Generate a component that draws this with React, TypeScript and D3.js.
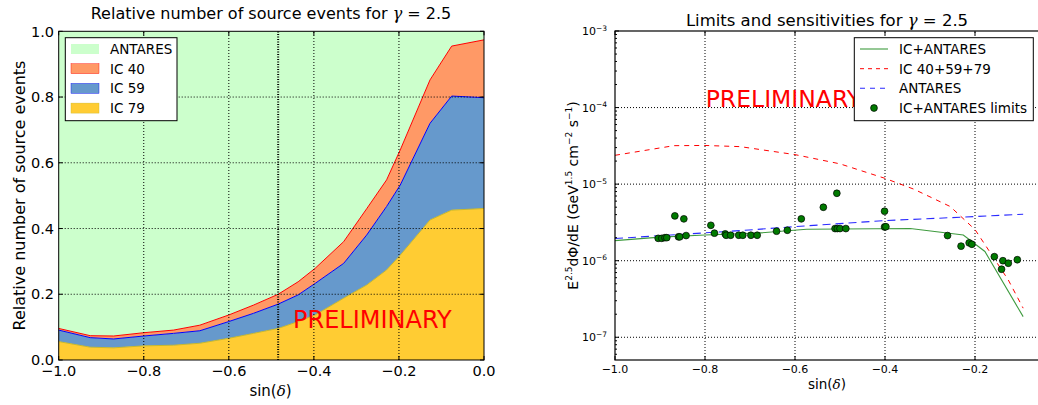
import React from 'react';
import * as d3 from 'd3';

// ---------- Left chart: relative number of source events ----------
const sinDec = [-1.0, -0.926, -0.871, -0.8, -0.73, -0.668, -0.6, -0.542, -0.484, -0.437, -0.397, -0.33, -0.276, -0.229, -0.197, -0.127, -0.076, 0.0];
const ic79 = [0.056, 0.039, 0.037, 0.043, 0.045, 0.051, 0.066, 0.081, 0.096, 0.117, 0.137, 0.188, 0.228, 0.274, 0.319, 0.426, 0.456, 0.461];
const ic59 = [0.035, 0.029, 0.027, 0.030, 0.036, 0.038, 0.051, 0.061, 0.074, 0.081, 0.096, 0.106, 0.152, 0.193, 0.213, 0.294, 0.347, 0.337];
const ic40 = [0.005, 0.006, 0.009, 0.010, 0.010, 0.017, 0.020, 0.025, 0.030, 0.040, 0.046, 0.066, 0.080, 0.081, 0.107, 0.132, 0.152, 0.176];
const antares = [0.904, 0.926, 0.927, 0.917, 0.909, 0.894, 0.863, 0.833, 0.800, 0.762, 0.721, 0.640, 0.540, 0.452, 0.361, 0.148, 0.045, 0.026];
const antaresLat = -0.484;
const leftXTicks = [-1.0, -0.8, -0.6, -0.4, -0.2, 0.0];
const leftYTicks = [0.0, 0.2, 0.4, 0.6, 0.8, 1.0];

// ---------- Right chart: limits and sensitivities ----------
const combSensX = [-1.0, -0.9, -0.8, -0.685, -0.574, -0.344, -0.226, -0.178, -0.093];
const combSensY = [1.83e-6, 2.03e-6, 2.17e-6, 2.29e-6, 2.57e-6, 2.63e-6, 2.17e-6, 1.32e-6, 1.86e-7];
const icSensX = [-1.0, -0.869, -0.8, -0.722, -0.6, -0.5, -0.4, -0.336, -0.255, -0.2, -0.167, -0.126, -0.093];
const icSensY = [2.38e-5, 3.18e-5, 3.2e-5, 3.09e-5, 2.43e-5, 1.84e-5, 1.19e-5, 8.6e-6, 5.1e-6, 2.55e-6, 1.3e-6, 5.6e-7, 2.4e-7];
const antSensX = [-1.0, -0.722, -0.6, -0.4, -0.2, -0.093];
const antSensY = [1.95e-6, 2.47e-6, 2.79e-6, 3.34e-6, 3.77e-6, 4.05e-6];
const limitX = [-0.904, -0.896, -0.889, -0.885, -0.867, -0.859, -0.856, -0.847, -0.842, -0.787, -0.779, -0.755, -0.753, -0.743, -0.725, -0.716, -0.698, -0.684, -0.641, -0.617, -0.586, -0.537, -0.511, -0.506, -0.507, -0.5, -0.487, -0.401, -0.401, -0.398, -0.261, -0.231, -0.213, -0.207, -0.157, -0.141, -0.138, -0.126, -0.106];
const limitY = [1.96e-6, 1.96e-6, 2.0e-6, 2.0e-6, 3.85e-6, 2.05e-6, 2.05e-6, 3.52e-6, 2.13e-6, 2.9e-6, 2.29e-6, 2.24e-6, 2.15e-6, 2.15e-6, 2.15e-6, 2.15e-6, 2.15e-6, 2.15e-6, 2.43e-6, 2.5e-6, 3.52e-6, 4.99e-6, 2.63e-6, 2.63e-6, 7.6e-6, 2.63e-6, 2.63e-6, 4.43e-6, 2.76e-6, 2.78e-6, 2.13e-6, 1.55e-6, 1.71e-6, 1.64e-6, 1.13e-6, 7.74e-7, 1.0e-6, 9.27e-7, 1.03e-6];
const rightXTicks = [-1.0, -0.8, -0.6, -0.4, -0.2, 0.0];
const rightYExps = [-7, -6, -5, -4, -3];

const FONT = 'DejaVu Sans';
const MATH = 'DejaVu Serif';
const fmt = (v: number) => (v < 0 ? '\u2212' : '') + Math.abs(v).toFixed(1);

function LeftChart() {
  const x = d3.scaleLinear().domain([-1, 0]).range([58.7, 484]);
  const y = d3.scaleLinear().domain([0, 1]).range([360, 31.3]);
  const rows = sinDec.map((s, i) => ({ s, ic79: ic79[i], ic59: ic59[i], ic40: ic40[i], antares: antares[i] }));
  const keys = ['ic79', 'ic59', 'ic40', 'antares'];
  const stacked = d3.stack<any>().keys(keys)(rows);
  const fills: Record<string, string> = { ic79: '#ffcc33', ic59: '#6699cc', ic40: '#ff9966', antares: '#ccffcc' };
  const edges: Record<string, string> = { ic79: '#c8b82a', ic59: '#0000ff', ic40: '#ff0000', antares: 'none' };
  const area = d3.area<any>().x((d) => x(d.data.s)).y0((d) => y(d[0])).y1((d) => y(d[1]));
  const top = d3.line<any>().x((d) => x(d.data.s)).y((d) => y(d[1]));
  const [x0, x1] = x.range();
  const [yb, yt] = y.range();
  const legend = [
    { k: 'antares', label: 'ANTARES' },
    { k: 'ic40', label: 'IC 40' },
    { k: 'ic59', label: 'IC 59' },
    { k: 'ic79', label: 'IC 79' },
  ];
  return (
    <g fontFamily={FONT}>
      {stacked.map((layer) => (
        <path key={layer.key} d={area(layer) || ''} fill={fills[layer.key]} stroke="none" />
      ))}
      {stacked.map((layer) =>
        edges[layer.key] === 'none' ? null : (
          <path key={'e' + layer.key} d={top(layer) || ''} fill="none" stroke={edges[layer.key]} strokeWidth={1} />
        )
      )}
      {leftXTicks.slice(1, -1).map((t) => (
        <line key={'gx' + t} x1={x(t)} x2={x(t)} y1={yb} y2={yt} stroke="#000" strokeWidth={1} strokeDasharray="1,2" />
      ))}
      {leftYTicks.slice(1, -1).map((t) => (
        <line key={'gy' + t} x1={x0} x2={x1} y1={y(t)} y2={y(t)} stroke="#000" strokeWidth={1} strokeDasharray="1,2" />
      ))}
      <line x1={x(antaresLat)} x2={x(antaresLat)} y1={yb} y2={yt} stroke="#000" strokeWidth={2} strokeDasharray="1,1.5" />
      <text x={293} y={328} fill="#ff0000" fontSize={24}>PRELIMINARY</text>
      <rect x={x0} y={yt} width={x1 - x0} height={yb - yt} fill="none" stroke="#000" strokeWidth={1} />
      {leftXTicks.map((t) => (
        <g key={'tx' + t}>
          <line x1={x(t)} x2={x(t)} y1={yb} y2={yb - 4} stroke="#000" />
          <line x1={x(t)} x2={x(t)} y1={yt} y2={yt + 4} stroke="#000" />
          <text x={x(t)} y={376} fontSize={14.5} textAnchor="middle">{fmt(t)}</text>
        </g>
      ))}
      {leftYTicks.map((t) => (
        <g key={'ty' + t}>
          <line x1={x0} x2={x0 + 4} y1={y(t)} y2={y(t)} stroke="#000" />
          <line x1={x1} x2={x1 - 4} y1={y(t)} y2={y(t)} stroke="#000" />
          <text x={54} y={y(t)} dy="0.36em" fontSize={14.5} textAnchor="end">{t.toFixed(1)}</text>
        </g>
      ))}
      <text x={271} y={18.5} fontSize={16} textAnchor="middle">
        Relative number of source events for <tspan fontFamily={MATH} fontStyle="italic">γ</tspan> = 2.5
      </text>
      <text x={270.5} y={396} fontSize={15} textAnchor="middle">
        sin(<tspan fontFamily={MATH} fontStyle="italic">δ</tspan>)
      </text>
      <text transform="translate(25,195.5) rotate(-90)" fontSize={16} textAnchor="middle">Relative number of source events</text>
      <rect x={65.3} y={37.7} width={111.7} height={83} fill="#fff" stroke="#000" strokeWidth={1} />
      {legend.map((l, i) => (
        <g key={'lg' + l.k}>
          <rect x={71} y={44 + i * 19.7} width={28} height={10} fill={fills[l.k]} stroke={edges[l.k] === 'none' ? 'none' : edges[l.k]} strokeWidth={0.4} />
          <text x={110} y={54 + i * 19.7} fontSize={13.5}>{l.label}</text>
        </g>
      ))}
    </g>
  );
}

function RightChart() {
  const x = d3.scaleLinear().domain([-1.0, -0.05]).range([615, 1042.5]);
  const y = d3.scaleLog().domain([5.05e-8, 1e-3]).range([360, 31]);
  const [x0, x1] = x.range();
  const [yb, yt] = y.range();
  const line = d3.line<[number, number]>().x((d) => x(d[0])).y((d) => y(d[1]));
  const comb = combSensX.map((v, i) => [v, combSensY[i]] as [number, number]);
  const ic = icSensX.map((v, i) => [v, icSensY[i]] as [number, number]);
  const ant = antSensX.map((v, i) => [v, antSensY[i]] as [number, number]);
  const minors: number[] = [];
  for (let e = -8; e <= -4; e++) for (let m = 2; m <= 9; m++) {
    const v = m * Math.pow(10, e);
    if (v > 5.05e-8 && v < 1e-3) minors.push(v);
  }
  const green = '#3f9b3f';
  const ptFill = '#007a00';
  return (
    <g fontFamily={FONT}>
      <defs>
        <clipPath id="rclip"><rect x={x0} y={yt} width={x1 - x0} height={yb - yt} /></clipPath>
      </defs>
      {rightXTicks.slice(1, -1).map((t) => (
        <line key={'gx' + t} x1={x(t)} x2={x(t)} y1={yb} y2={yt} stroke="#000" strokeWidth={1} strokeDasharray="1,2" />
      ))}
      {rightYExps.slice(0, -1).map((e) => (
        <line key={'gy' + e} x1={x0} x2={x1} y1={y(Math.pow(10, e))} y2={y(Math.pow(10, e))} stroke="#000" strokeWidth={1} strokeDasharray="1,2" />
      ))}
      <g clipPath="url(#rclip)">
        <path d={line(ic) || ''} fill="none" stroke="#ff0000" strokeWidth={1} strokeDasharray="5,5" />
        <path d={line(ant) || ''} fill="none" stroke="#2a2aff" strokeWidth={1.1} strokeDasharray="8,5" />
        <path d={line(comb) || ''} fill="none" stroke={green} strokeWidth={1.1} />
        {limitX.map((v, i) => (
          <circle key={'p' + i} cx={x(v)} cy={y(limitY[i])} r={3.4} fill={ptFill} stroke="#000" strokeWidth={0.7} />
        ))}
      </g>
      <text x={705.7} y={106.7} fill="#ff0000" fontSize={23.5}>PRELIMINARY</text>
      <rect x={x0} y={yt} width={x1 - x0} height={yb - yt} fill="none" stroke="#000" strokeWidth={1.2} />
      {rightXTicks.map((t) => (
        <g key={'tx' + t}>
          <line x1={x(t)} x2={x(t)} y1={yb} y2={yb - 4} stroke="#000" />
          <line x1={x(t)} x2={x(t)} y1={yt} y2={yt + 4} stroke="#000" />
          {t > -0.1 ? null : <text x={x(t)} y={373} fontSize={11} textAnchor="middle">{fmt(t)}</text>}
        </g>
      ))}
      {rightYExps.map((e) => {
        const yy = y(Math.pow(10, e));
        return (
          <g key={'ty' + e}>
            <line x1={x0} x2={x0 + 4} y1={yy} y2={yy} stroke="#000" />
            <line x1={x1} x2={x1 - 4} y1={yy} y2={yy} stroke="#000" />
            <text x={607} y={yy + 4} fontSize={11} textAnchor="end">
              10<tspan dy={-4.5} fontSize={7.5}>{'\u2212' + Math.abs(e)}</tspan>
            </text>
          </g>
        );
      })}
      {minors.map((v, i) => (
        <g key={'mn' + i}>
          <line x1={x0} x2={x0 + 2} y1={y(v)} y2={y(v)} stroke="#000" />
          <line x1={x1} x2={x1 - 2} y1={y(v)} y2={y(v)} stroke="#000" />
        </g>
      ))}
      <text x={827} y={26} fontSize={16.5} textAnchor="middle">
        Limits and sensitivities for <tspan fontFamily={MATH} fontStyle="italic">γ</tspan> = 2.5
      </text>
      <text x={827} y={389} fontSize={13.5} textAnchor="middle">
        sin(<tspan fontFamily={MATH} fontStyle="italic">δ</tspan>)
      </text>
      <text transform="translate(578,195.5) rotate(-90)" fontSize={14} textAnchor="middle">
        E<tspan dy={-6} fontSize={9}>2.5</tspan><tspan dy={6}>dΦ/dE (GeV</tspan><tspan dy={-6} fontSize={9}>1.5</tspan><tspan dy={6}> cm</tspan><tspan dy={-6} fontSize={9}>{'\u22122'}</tspan><tspan dy={6}>  s</tspan><tspan dy={-6} fontSize={9}>{'\u22121'}</tspan><tspan dy={6}>)</tspan>
      </text>
      <rect x={854.3} y={37.7} width={179} height={83} fill="#fff" stroke="#000" strokeWidth={1} />
      <line x1={860} x2={888} y1={49} y2={49} stroke={green} strokeWidth={1.1} />
      <line x1={860} x2={888} y1={68.7} y2={68.7} stroke="#ff0000" strokeWidth={1} strokeDasharray="4,4" />
      <line x1={860} x2={888} y1={88.3} y2={88.3} stroke="#2a2aff" strokeWidth={1.1} strokeDasharray="5,5" />
      <circle cx={874} cy={108} r={3.4} fill={ptFill} stroke="#000" strokeWidth={0.7} />
      {['IC+ANTARES', 'IC 40+59+79', 'ANTARES', 'IC+ANTARES limits'].map((s, i) => (
        <text key={'rl' + i} x={899} y={54 + i * 19.7} fontSize={13.5}>{s}</text>
      ))}
    </g>
  );
}

export default function App() {
  return (
    <svg width={1038} height={405} viewBox="0 0 1038 405" style={{ position: 'absolute', left: 0, top: 0, background: '#fff' }}>
      <rect x={0} y={0} width={1038} height={405} fill="#fff" />
      <LeftChart />
      <RightChart />
    </svg>
  );
}
